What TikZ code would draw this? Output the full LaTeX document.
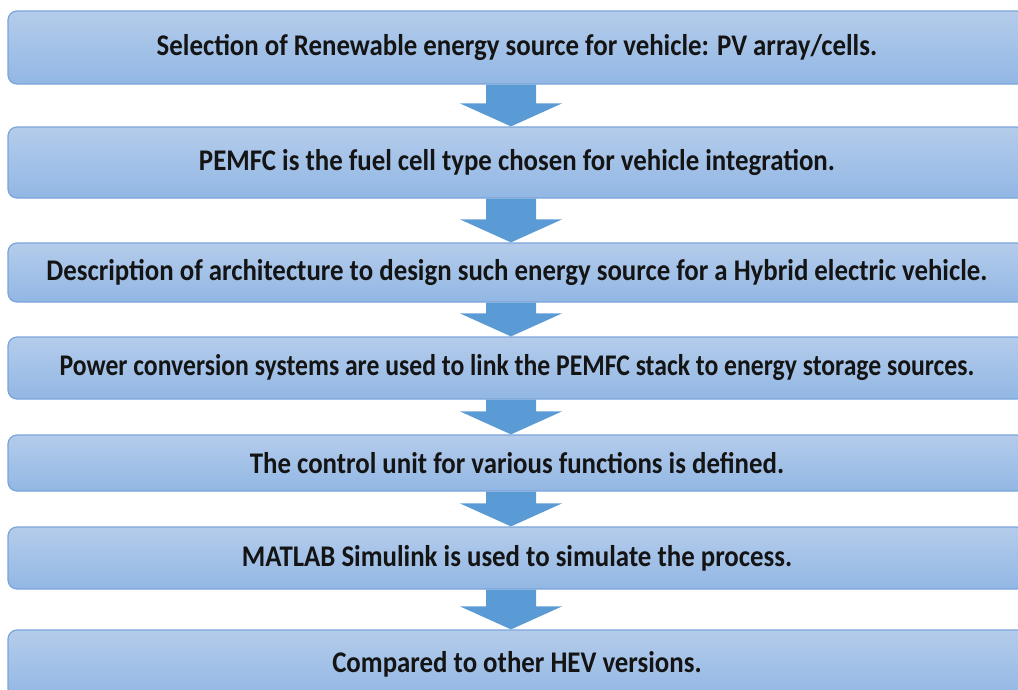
\documentclass[tikz,border=0pt]{standalone}
\usepackage{fontspec}
\setmainfont{Carlito}
\usepackage{graphicx}
\usetikzlibrary{calc}
\definecolor{boxtop}{RGB}{180,204,235}
\definecolor{boxbot}{RGB}{146,183,228}
\definecolor{boxline}{RGB}{122,164,218}
\definecolor{arrfill}{RGB}{91,155,213}
\definecolor{txt}{RGB}{20,20,20}
\newcommand{\sq}[2][0.895]{\scalebox{#1}[1]{#2}}
\newcommand{\blockarrow}[2]{%
  \fill[arrfill] let \p1=(#1.south), \p2=(#2.north) in
    (\x1-31pt,\y1) -- (\x1+19pt,\y1) -- (\x1+19pt,\y2+23pt) -- (\x1+45pt,\y2+23pt)
    -- (\x1-6pt,\y2) -- (\x1-57pt,\y2+23pt) -- (\x1-31pt,\y2+23pt) -- cycle;}
\tikzset{
  stepbox/.style={draw=boxline, line width=1.2pt, rounded corners=9pt,
    top color=boxtop, bottom color=boxbot, minimum width=1018pt,
    text=txt, font=\fontsize{30}{36}\selectfont\bfseries, inner sep=0pt}
}
\begin{document}
\begin{tikzpicture}[x=1pt,y=-1pt]
\useasboundingbox (0,0) rectangle (1018,689);
\clip (0,0) rectangle (1018,689);
\node[stepbox, minimum height=73pt] (b1) at (517,47.5) {\sq{Selection of Renewable energy source for vehicle: PV array/cells.}};
\node[stepbox, minimum height=71pt] (b2) at (517,162.5) {\sq{PEMFC is the fuel cell type chosen for vehicle integration.}};
\node[stepbox, minimum height=59pt] (b3) at (517,272.5) {\sq{Description of architecture to design such energy source for a Hybrid electric vehicle.}};
\node[stepbox, minimum height=62pt] (b4) at (517,368) {\sq[0.856]{Power conversion systems are used to link the PEMFC stack to energy storage sources.}};
\node[stepbox, minimum height=56pt] (b5) at (517,463) {\sq{The control unit for various functions is defined.}};
\node[stepbox, minimum height=62pt] (b6) at (517,558) {\sq{MATLAB Simulink is used to simulate the process.}};
\node[stepbox, minimum height=68pt] (b7) at (517,664) {\sq{Compared to other HEV versions.}};
\blockarrow{b1}{b2}
\blockarrow{b2}{b3}
\blockarrow{b3}{b4}
\blockarrow{b4}{b5}
\blockarrow{b5}{b6}
\blockarrow{b6}{b7}
\end{tikzpicture}
\end{document}
